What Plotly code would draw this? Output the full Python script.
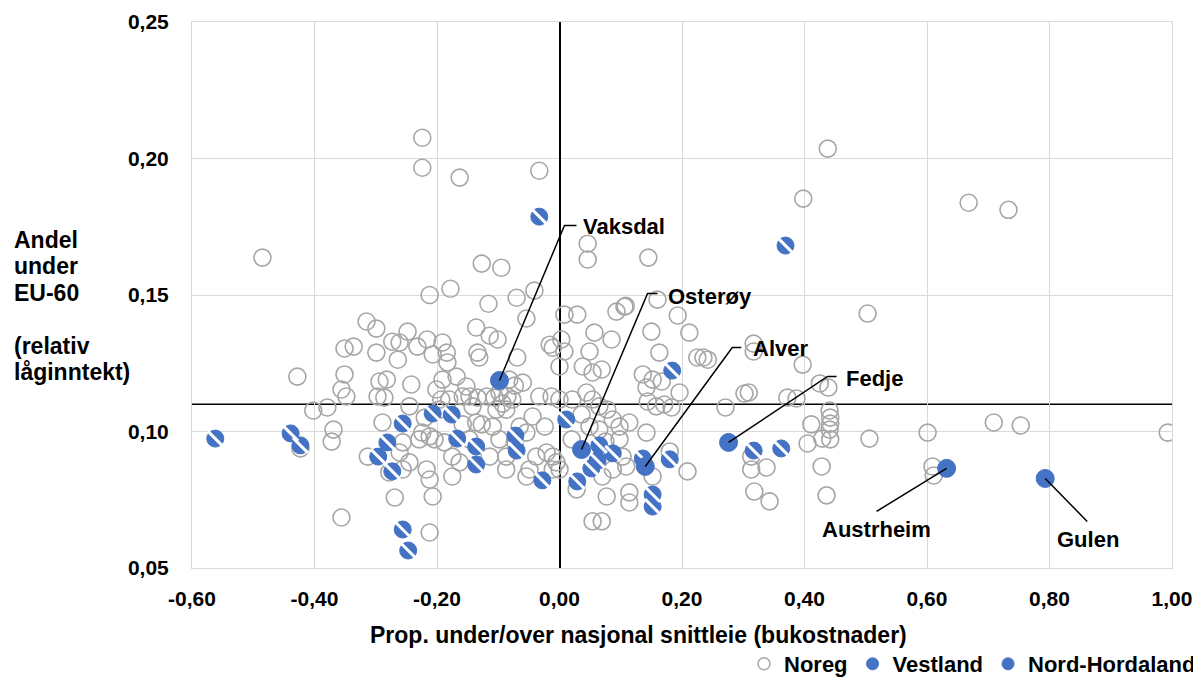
import plotly.graph_objects as go

# ---------------- data ----------------
NOREG_X = [
    -0.224, -0.224, -0.163, -0.033, 0.438, 0.398, 0.668, 0.733, -0.485, 0.046,
    0.046, 0.145, -0.127, -0.095, -0.178, -0.212, -0.041, -0.070, -0.116, 0.108,
    0.160, 0.193, 0.503, 0.008, 0.029, -0.054, -0.315, -0.299, -0.136, -0.114,
    -0.101, 0.057, 0.085, 0.150, 0.212, -0.248, -0.273, -0.261, -0.216, -0.232,
    -0.191, -0.351, -0.336, -0.299, -0.184, -0.207, -0.183, -0.264, -0.134, -0.131,
    -0.069, -0.016, -0.011, 0.003, 0.008, 0.000, 0.049, 0.038, 0.054, 0.069,
    0.093, 0.106, 0.163, 0.225, 0.235, 0.242, 0.136, 0.152, 0.142, 0.167,
    0.196, 0.144, 0.158, 0.171, 0.183, 0.142, 0.180, 0.209, 0.317, 0.317,
    0.397, 0.425, 0.439, 0.387, 0.271, 0.302, 0.441, 0.442, 0.442, 0.441,
    0.442, 0.411, 0.405, 0.429, 0.428, 0.436, 0.506, 0.313, 0.313, 0.338,
    0.318, 0.343, 0.372, 0.309, 0.601, 0.709, 0.753, 0.993, 0.609, 0.611,
    -0.428, -0.402, -0.379, -0.369, -0.372, -0.423, -0.356, -0.351, -0.356, -0.348,
    -0.313, -0.294, -0.282, -0.297, -0.286, -0.245, -0.289, -0.224, -0.212, -0.229,
    -0.256, -0.261, -0.245, -0.256, -0.278, -0.217, -0.212, -0.269, -0.207, -0.212,
    -0.201, -0.191, -0.168, -0.180, -0.193, -0.158, -0.152, -0.196, -0.204, -0.188,
    -0.175, -0.163, -0.175, -0.136, -0.127, -0.109, -0.114, -0.087, -0.087, -0.054,
    -0.044, -0.024, -0.054, -0.065, -0.038, -0.021, -0.011, -0.005, -0.011, 0.000,
    -0.013, 0.000, -0.033, -0.082, -0.073, -0.098, -0.106, -0.085, -0.093, -0.103,
    -0.087, -0.077, -0.119, -0.060, -0.147, -0.134, -0.142,
    0.021, 0.044, 0.054, 0.065, 0.078, 0.049, 0.065, 0.087, 0.098, 0.114,
    0.103, 0.109, 0.087, 0.070, 0.077, 0.114, 0.114, 0.054, 0.069, 0.028,
    0.152, -0.242, -0.220, -0.147, -0.158, -0.098, -0.073, -0.049, 0.020, 0.036,
    0.075, 0.098,
]
NOREG_Y = [
    0.2076, 0.1966, 0.1930, 0.1955, 0.2036, 0.1853, 0.1838, 0.1812, 0.1637, 0.1688,
    0.1630, 0.1637, 0.1615, 0.1600, 0.1523, 0.1500, 0.1516, 0.1490, 0.1468, 0.1460,
    0.1483, 0.1425, 0.1432, 0.1428, 0.1428, 0.1414, 0.1403, 0.1377, 0.1381, 0.1351,
    0.1337, 0.1362, 0.1337, 0.1366, 0.1362, 0.1366, 0.1329, 0.1326, 0.1337, 0.1311,
    0.1326, 0.1304, 0.1311, 0.1289, 0.1289, 0.1282, 0.1253, 0.1263, 0.1289, 0.1271,
    0.1271, 0.1318, 0.1307, 0.1337, 0.1293, 0.1238, 0.1293, 0.1238, 0.1216, 0.1227,
    0.1439, 0.1457, 0.1289, 0.1271, 0.1271, 0.1263, 0.1209, 0.1190, 0.1161, 0.1183,
    0.1143, 0.1110, 0.1092, 0.1099, 0.1088, 0.0996, 0.0927, 0.0854, 0.1322, 0.1293,
    0.1245, 0.1176, 0.1161, 0.1121, 0.1088, 0.1139, 0.1077, 0.1051, 0.1029, 0.1007,
    0.0971, 0.1026, 0.0956, 0.0974, 0.0872, 0.0766, 0.0974, 0.0908, 0.0861, 0.0868,
    0.0780, 0.0744, 0.1124, 0.1143, 0.0996, 0.1033, 0.1022, 0.0996, 0.0872, 0.0839,
    0.1201, 0.1077, 0.1088, 0.1007, 0.0963, 0.0938, 0.0685, 0.1209, 0.1154, 0.1128,
    0.0908, 0.1183, 0.1190, 0.1128, 0.1124, 0.1092, 0.1033, 0.0996, 0.0982, 0.0971,
    0.0960, 0.0923, 0.0887, 0.0861, 0.0850, 0.0861, 0.0824, 0.0758, 0.0762, 0.0630,
    0.1154, 0.1190, 0.1201, 0.1117, 0.1117, 0.1128, 0.1165, 0.1080, 0.0971, 0.0960,
    0.0908, 0.0887, 0.0835, 0.1033, 0.1026, 0.1018, 0.0908, 0.0908, 0.0861, 0.0835,
    0.1055, 0.1018, 0.0996, 0.1018, 0.0908, 0.0923, 0.0908, 0.0887, 0.0861, 0.0861,
    0.1128, 0.1117, 0.1128, 0.1190, 0.1168, 0.1143, 0.1124, 0.1128, 0.1102, 0.1080,
    0.1080, 0.1117, 0.1128, 0.1179, 0.1128, 0.1124, 0.1092,
    0.1117, 0.1143, 0.1117, 0.1092, 0.1080, 0.1018, 0.1007, 0.1044, 0.1018, 0.1033,
    0.0908, 0.0872, 0.0861, 0.0835, 0.0762, 0.0777, 0.0740, 0.0671, 0.0671, 0.0788,
    0.0835, 0.1172, 0.1051, 0.0971, 0.1026, 0.0971, 0.0963, 0.0861, 0.0971, 0.1062,
    0.0963, 0.0971,
]

VESTLAND_X = [
    -0.562, -0.439, -0.423, -0.033, 0.369, 0.184, 0.011, -0.207, -0.176, -0.256,
    -0.281, -0.296, -0.273, -0.167, -0.136, -0.136, -0.072, -0.070, -0.028, 0.065,
    0.087, 0.062, 0.052, 0.029, 0.136, 0.180, 0.152, 0.152, -0.256, -0.247,
    0.317, 0.362,
]
VESTLAND_Y = [
    0.0974, 0.0993, 0.0949, 0.1787, 0.1681, 0.1223, 0.1044, 0.1066, 0.1062, 0.1029,
    0.0960, 0.0908, 0.0854, 0.0974, 0.0945, 0.0879, 0.0985, 0.0930, 0.0821, 0.0949,
    0.0920, 0.0894, 0.0865, 0.0817, 0.0901, 0.0898, 0.0769, 0.0725, 0.0641, 0.0564,
    0.0930, 0.0938,
]

NH_NAMES = ["Vaksdal", "Osterøy", "Alver", "Fedje", "Austrheim", "Gulen"]
NH_X = [-0.098, 0.036, 0.140, 0.276, 0.632, 0.793]
NH_Y = [0.1187, 0.0934, 0.0872, 0.0960, 0.0865, 0.0828]

NAT_Y = 0.11  # national average (horizontal reference line); vertical one is x = 0

X_TICKS = [-0.6, -0.4, -0.2, 0.0, 0.2, 0.4, 0.6, 0.8, 1.0]
X_TICK_TEXT = ["-0,60", "-0,40", "-0,20", "0,00", "0,20", "0,40", "0,60", "0,80", "1,00"]
Y_TICKS = [0.05, 0.10, 0.15, 0.20, 0.25]
Y_TICK_TEXT = ["0,05", "0,10", "0,15", "0,20", "0,25"]

SERIES_NAMES = ["Noreg", "Vestland", "Nord-Hordaland"]
X_TITLE = "Prop. under/over nasjonal snittleie (bukostnader)"
Y_TITLE_LINES = ["Andel", "under", "EU-60", "", "(relativ", "låginntekt)"]

# ---------------- style ----------------
GREY = "#A6A6A6"
BLUE = "#4472C4"
FONT = "Liberation Sans, Arial, sans-serif"
GRID = "#D9D9D9"

# label connector geometry, pixels relative to the point (dx right, dy up)
LABEL_GEOM = {
    "Vaksdal":   dict(path=[(65, 155), (77, 155)], tx=82, ty=154, anchor="left"),
    "Osterøy":   dict(path=[(66, 156), (76, 156)], tx=84, ty=153, anchor="left"),
    "Alver":     dict(path=[(87, 119), (96, 119)], tx=106, ty=118, anchor="left"),
    "Fedje":     dict(path=[(99, 66), (108, 66)], tx=115, ty=64, anchor="left"),
    "Austrheim": dict(path=[(-70, -43)], tx=-70, ty=-61, anchor="center"),
    "Gulen":     dict(path=[(42, -43)], tx=43, ty=-61, anchor="center"),
}

fig = go.Figure()

fig.add_trace(go.Scatter(
    x=NOREG_X, y=NOREG_Y, mode="markers", name=SERIES_NAMES[0], showlegend=False,
    marker=dict(symbol="circle-open", size=17, color=GREY, line=dict(width=1.6, color=GREY)),
))
fig.add_trace(go.Scatter(
    x=VESTLAND_X, y=VESTLAND_Y, mode="markers", name=SERIES_NAMES[1], showlegend=False,
    marker=dict(symbol="circle", size=17, color=BLUE, line=dict(width=1, color=BLUE)),
))
fig.add_trace(go.Scatter(
    x=VESTLAND_X, y=VESTLAND_Y, mode="markers", showlegend=False, hoverinfo="skip",
    marker=dict(symbol="line-nw", size=15, color="white", line=dict(width=3, color="white")),
))
fig.add_trace(go.Scatter(
    x=NH_X, y=NH_Y, mode="markers", name=SERIES_NAMES[2], showlegend=False, text=NH_NAMES,
    marker=dict(symbol="circle", size=18, color=BLUE, line=dict(width=1, color=BLUE)),
))

# legend-only entries (smaller symbols as in the reference)
fig.add_trace(go.Scatter(x=[None], y=[None], mode="markers", name=SERIES_NAMES[0],
                         marker=dict(symbol="circle-open", size=12, color=GREY,
                                     line=dict(width=1.5, color=GREY))))
fig.add_trace(go.Scatter(x=[None], y=[None], mode="markers", name=SERIES_NAMES[1],
                         marker=dict(symbol="circle", size=12, color=BLUE,
                                     line=dict(width=1, color=BLUE))))
fig.add_trace(go.Scatter(x=[None], y=[None], mode="markers", name=SERIES_NAMES[2],
                         marker=dict(symbol="circle", size=12, color=BLUE,
                                     line=dict(width=1, color=BLUE))))

shapes = [
    dict(type="line", xref="paper", yref="y", x0=0, x1=1, y0=NAT_Y, y1=NAT_Y,
         line=dict(color="black", width=1.5), layer="between"),
]
annotations = []
for name, x, y in zip(NH_NAMES, NH_X, NH_Y):
    g = LABEL_GEOM[name]
    path = "M 0 0 " + " ".join(f"L {dx} {dy}" for dx, dy in g["path"])
    shapes.append(dict(type="path", xref="x", yref="y", xsizemode="pixel", ysizemode="pixel",
                       xanchor=x, yanchor=y, path=path, line=dict(color="black", width=1.5)))
    annotations.append(dict(x=x, y=y, xref="x", yref="y", text=f"<b>{name}</b>", showarrow=False,
                            xanchor=g["anchor"], yanchor="middle", xshift=g["tx"], yshift=g["ty"],
                            font=dict(family=FONT, size=22, color="black")))

# x-axis title
annotations.append(dict(xref="paper", yref="paper", x=0.456, y=-0.1227, text=f"<b>{X_TITLE}</b>",
                        showarrow=False, xanchor="center", yanchor="middle",
                        font=dict(family=FONT, size=23, color="black")))
# y-axis title, one annotation per line
for i, line in enumerate(Y_TITLE_LINES):
    if not line:
        continue
    ypx = 240 + 26.4 * i
    annotations.append(dict(xref="paper", yref="paper", x=(12 - 192) / 980, y=(568 - ypx) / 546,
                            text=f"<b>{line}</b>", showarrow=False, xanchor="left", yanchor="middle",
                            font=dict(family=FONT, size=23, color="black")))

# the page body adds an 8 px margin, so the figure is made 8 px smaller
fig.update_layout(
    width=1193, height=672,
    margin=dict(l=184, r=29, t=14, b=112, autoexpand=False),
    paper_bgcolor="white", plot_bgcolor="white",
    font=dict(family=FONT, color="black"),
    shapes=shapes, annotations=annotations,
    showlegend=True,
    legend=dict(orientation="h", xref="container", x=1.0, xanchor="right",
                yref="paper", y=(568 - 664) / 546, yanchor="middle",
                font=dict(family=FONT, size=22, color="black", weight="bold"),
                itemwidth=30, traceorder="normal", bgcolor="rgba(0,0,0,0)"),
    xaxis=dict(range=[-0.6, 1.0], tickvals=X_TICKS, ticktext=X_TICK_TEXT,
               showgrid=True, gridcolor=GRID, gridwidth=1,
               zeroline=True, zerolinecolor="black", zerolinewidth=1.5,
               showline=True, linecolor=GRID, linewidth=1, mirror=True,
               ticks="outside", ticklen=12, tickcolor="rgba(0,0,0,0)",
               tickfont=dict(family=FONT, size=21, color="black", weight="bold")),
    yaxis=dict(range=[0.05, 0.25], tickvals=Y_TICKS, ticktext=Y_TICK_TEXT,
               showgrid=True, gridcolor=GRID, gridwidth=1, zeroline=False,
               showline=True, linecolor=GRID, linewidth=1, mirror=True,
               ticks="outside", ticklen=18, tickcolor="rgba(0,0,0,0)",
               tickfont=dict(family=FONT, size=21, color="black", weight="bold")),
)

fig.write_html("out.html")
